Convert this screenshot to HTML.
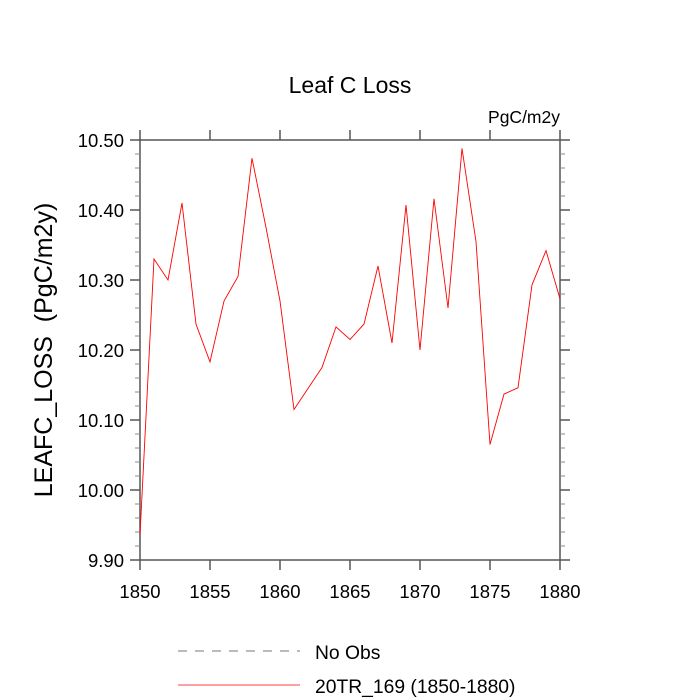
<!DOCTYPE html>
<html><head><meta charset="utf-8"><style>
body{margin:0;background:#fff}
svg{display:block;font-family:"Liberation Sans",sans-serif}
</style></head><body>
<svg id="c" width="700" height="700">
<text x="350" y="93" text-anchor="middle" font-size="23">Leaf C Loss</text>
<text x="560" y="123" text-anchor="end" font-size="17.5">PgC/m2y</text>
<text transform="translate(52,350) rotate(-90)" text-anchor="middle" font-size="25" xml:space="preserve">LEAFC_LOSS  (PgC/m2y)</text>
<g id="axes"></g>
<g id="plot"></g>
<g>
<line x1="178" y1="651" x2="300" y2="651" stroke="#777" stroke-dasharray="9,8"/>
<text x="315" y="659" font-size="19.3">No Obs</text>
<line x1="178" y1="685" x2="300" y2="685" stroke="red" stroke-width="0.8"/>
<text x="315" y="693" font-size="19.3">20TR_169 (1850-1880)</text>
</g>
</svg>
<script>
const years=[1850,1851,1852,1853,1854,1855,1856,1857,1858,1859,1860,1861,1862,1863,1864,1865,1866,1867,1868,1869,1870,1871,1872,1873,1874,1875,1876,1877,1878,1879,1880];
const values=[9.936,10.33,10.30,10.41,10.237,10.183,10.27,10.305,10.474,10.375,10.27,10.115,10.145,10.175,10.233,10.215,10.237,10.32,10.21,10.407,10.20,10.416,10.26,10.488,10.355,10.065,10.137,10.146,10.293,10.342,10.273];
const xTicks=[1850,1855,1860,1865,1870,1875,1880];
const yTicks=[9.9,10.0,10.1,10.2,10.3,10.4,10.5];
const yLabels=["9.90","10.00","10.10","10.20","10.30","10.40","10.50"];
const L=140,R=560,T=140,B=560;
const sx=v=>L+(v-1850)/30*(R-L);
const sy=v=>B-(v-9.9)/0.6*(B-T);
const NS="http://www.w3.org/2000/svg";
const ax=document.getElementById('axes'),pl=document.getElementById('plot');
function mk(p,tag,a){const e=document.createElementNS(NS,tag);for(const k in a)e.setAttribute(k,a[k]);p.appendChild(e);return e;}
const fr=mk(ax,'rect',{x:L,y:T,width:R-L,height:B-T,fill:'none',stroke:'#555','stroke-width':1.5});


xTicks.forEach(v=>{const x=sx(v);
mk(ax,'line',{x1:x,y1:B,x2:x,y2:B+10,stroke:'#555','stroke-width':1.5});
mk(ax,'line',{x1:x,y1:T,x2:x,y2:T-10,stroke:'#555','stroke-width':1.5});
const t=mk(ax,'text',{x:x,y:B+38,'text-anchor':'middle','font-size':18.5});t.textContent=v;

});
yTicks.forEach((v,i)=>{const y=sy(v);
mk(ax,'line',{x1:L,y1:y,x2:L-10,y2:y,stroke:'#555','stroke-width':1.5});
mk(ax,'line',{x1:R,y1:y,x2:R+10,y2:y,stroke:'#555','stroke-width':1.5});
if(i<yTicks.length-1)for(let j=1;j<5;j++){const yy=y-j*(sy(9.9)-sy(10.0))/5;
mk(ax,'line',{x1:L,y1:yy,x2:L-5,y2:yy,stroke:'#888'});
mk(ax,'line',{x1:R,y1:yy,x2:R+5,y2:yy,stroke:'#888'});}
const t=mk(ax,'text',{x:L-16,y:y+7,'text-anchor':'end','font-size':18.5});t.textContent=yLabels[i];

});
const line=mk(pl,'polyline',{points:years.map((y,i)=>sx(y)+','+sy(values[i])).join(' '),fill:'none',stroke:'red','stroke-width':0.9});


</script>
</body></html>
